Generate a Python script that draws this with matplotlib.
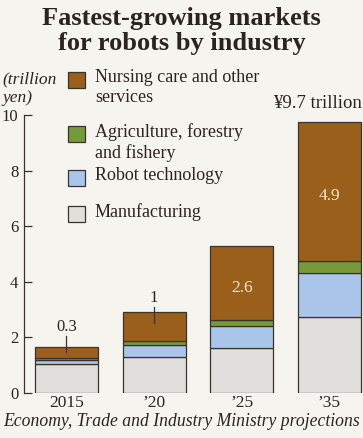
import matplotlib
matplotlib.use("Agg")
import matplotlib.pyplot as plt
from matplotlib.patches import Rectangle

# values in trillion yen
years = ["2015", "\u201920", "\u201925", "\u201935"]
manufacturing = [1.05, 1.28, 1.60, 2.74]
robot_tech = [0.14, 0.44, 0.81, 1.57]
agriculture = [0.06, 0.15, 0.21, 0.44]
nursing = [0.38, 1.03, 2.68, 5.00]
nursing_labels = ["0.3", "1", "2.6", "4.9"]

series = [
    ("Manufacturing", manufacturing, "#e1dfdb"),
    ("Robot technology", robot_tech, "#a9c6ea"),
    ("Agriculture, forestry\nand fishery", agriculture, "#77993a"),
    ("Nursing care and other\nservices", nursing, "#9b5f1c"),
]

BG = "#f6f4ef"
EDGE = "#3a332c"
INK = "#2a2420"
plt.rcParams["font.family"] = ["Liberation Serif", "DejaVu Serif"]

fig = plt.figure(figsize=(3.63, 4.38), dpi=100, facecolor=BG)
ax = fig.add_axes([0.066, 0.1034, 0.934, 0.634], facecolor=BG)

x = list(range(len(years)))
bottom = [0.0] * len(years)
for name, vals, color in series:
    ax.bar(x, vals, width=0.72, bottom=bottom, color=color,
           edgecolor=EDGE, linewidth=0.9)
    bottom = [b + v for b, v in zip(bottom, vals)]
totals = bottom

ax.set_xlim(-0.485, 3.385)
ax.set_ylim(0, 10)
ax.set_yticks([0, 2, 4, 6, 8, 10])
ax.set_xticks(x)
ax.set_xticklabels(years, fontsize=12.5)
ax.tick_params(axis="y", direction="in", length=6, width=0.9,
               color=EDGE, labelsize=12, pad=4, labelcolor=INK)
ax.tick_params(axis="x", length=0, pad=2, labelcolor=INK)
for s in ["top", "right", "bottom"]:
    ax.spines[s].set_visible(False)
ax.spines["left"].set_color(EDGE)
ax.spines["left"].set_linewidth(0.9)

# small bars: label above with a leader line into the brown block
lead = [(2.37, 2.05, 1.46), (3.41, 3.10, 2.52)]
for i, (ty, y0, y1) in enumerate(lead):
    ax.text(x[i], ty, nursing_labels[i], ha="center", va="center",
            fontsize=12, color=INK)
    ax.plot([x[i], x[i]], [y0, y1], color=EDGE, lw=0.9)

# big bars: label inside the brown block
for i in [2, 3]:
    seg_mid = totals[i] - nursing[i] / 2
    ax.text(x[i], seg_mid - 0.18, nursing_labels[i], ha="center", va="center",
            fontsize=12.5, color="#f3e6c8")

fig.text(0.997, 1 - 103 / 438, "\u00a59.7 trillion", ha="right", va="center",
         fontsize=13.5, color=INK)

# title
fig.text(0.5, 1 - 31 / 438, "Fastest-growing markets\nfor robots by industry",
         ha="center", va="center", fontsize=19, fontweight="bold",
         color=INK, linespacing=1.08)

# unit label
fig.text(0.006, 1 - 89 / 438, "(trillion\nyen)", ha="left", va="center",
         fontsize=12.5, style="italic", color=INK, linespacing=1.2)

# legend drawn with patches aligned to first text line
legend_rows = [
    (series[3], 79.5),
    (series[2], 134.0),
    (series[1], 177.5),
    (series[0], 214.5),
]
H = 438.0
W = 363.0
for (name, vals, color), yc in legend_rows:
    fig.patches.append(Rectangle((68 / W, 1 - (yc + 8) / H), 17 / W, 16 / H,
                                 transform=fig.transFigure, facecolor=color,
                                 edgecolor=EDGE, linewidth=0.9))
    fig.text(95 / W, 1 - (yc - 11) / H, name, ha="left", va="top",
             fontsize=13, color=INK, linespacing=1.25)

fig.text(0.5, 1 - 421 / H, "Economy, Trade and Industry Ministry projections",
         ha="center", va="center", fontsize=12.7, style="italic", color=INK)

fig.savefig("out.png", dpi=100, facecolor=BG)
